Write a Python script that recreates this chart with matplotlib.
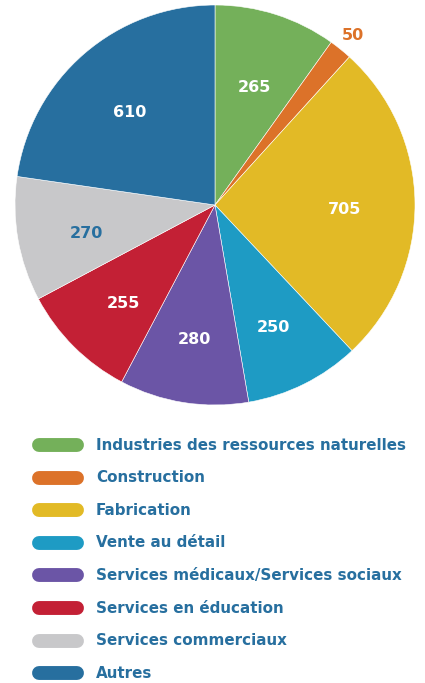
import matplotlib.pyplot as plt
import numpy as np

categories = ["Industries des ressources naturelles", "Construction", "Fabrication",
              "Vente au détail", "Services médicaux/Services sociaux",
              "Services en éducation", "Services commerciaux", "Autres"]
values = [265, 50, 705, 250, 280, 255, 270, 610]
colors = ["#74b05a", "#dc7229", "#e2ba26", "#1e9bc4", "#6b55a6",
          "#c32035", "#c8c8ca", "#276f9f"]
label_colors = ["white", "#dc7229", "white", "white", "white", "white", "#276f9f", "white"]

text_blue = "#276f9f"
plt.rcParams['font.family'] = ['DejaVu Sans']

fig = plt.figure(figsize=(4.25, 6.83), dpi=100)

# pie area: 400x400 px, top-left at (15, 5)
ax = fig.add_axes([15 / 425, 1 - 405 / 683, 400 / 425, 400 / 683])
wedges, _ = ax.pie(values, colors=colors, startangle=90, counterclock=False,
                   radius=1, wedgeprops=dict(edgecolor="white", linewidth=0.4))
ax.set_xlim(-1, 1)
ax.set_ylim(-1, 1)
ax.set_aspect("equal")
ax.axis("off")

total = sum(values)
cum = np.cumsum([0] + values[:-1])
for i, v in enumerate(values):
    mid = (cum[i] + v / 2) / total
    ang = np.deg2rad(90 - 360 * mid)
    if v < 100:
        # small slice: label outside
        x, y = 1.1 * np.cos(ang), 1.1 * np.sin(ang) - 0.01
    else:
        x, y = 0.65 * np.cos(ang), 0.65 * np.sin(ang) - 0.03
    ax.text(x, y, str(v), ha="center", va="center",
            color=label_colors[i], fontsize=11.5, fontweight="bold")

# legend area in pixel coordinates
lax = fig.add_axes([0, 0, 1, 1 - 425 / 683])
lax.set_xlim(0, 425)
lax.set_ylim(683, 425)
lax.axis("off")
y0, step = 445, 32.6
for i, (cat, col) in enumerate(zip(categories, colors)):
    y = y0 + i * step
    lax.plot([39, 77], [y, y], color=col, linewidth=10, solid_capstyle="round")
    lax.text(96, y, cat, ha="left", va="center", color=text_blue,
             fontsize=10.9, fontweight="bold")

fig.savefig("out.png", dpi=100)
